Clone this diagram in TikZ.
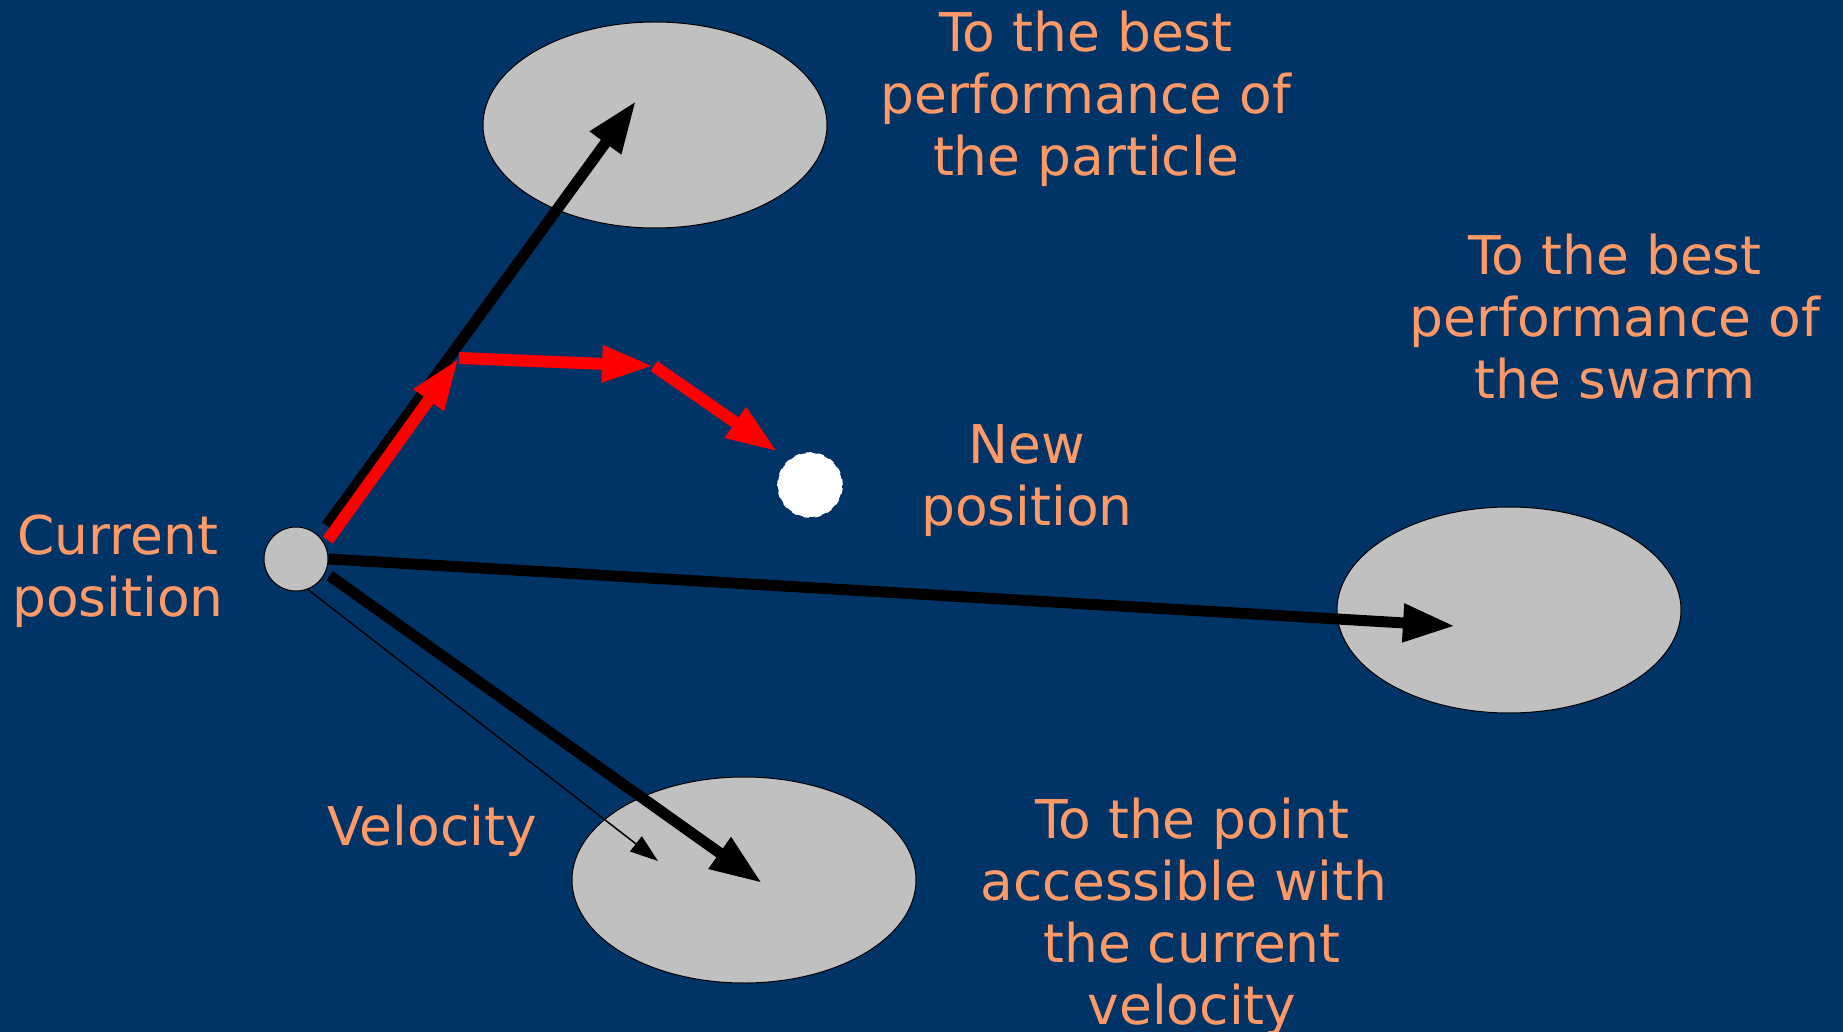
\documentclass[tikz,border=0pt]{standalone}
\usepackage{fontspec}
\setmainfont{DejaVu Sans}
\usepackage{tikz}
\usetikzlibrary{arrows.meta,shapes.geometric,backgrounds}
\definecolor{bgblue}{RGB}{0,51,102}
\definecolor{salmon}{RGB}{255,153,102}
\definecolor{targetgray}{RGB}{192,192,192}
\definecolor{pathred}{RGB}{255,0,0}

\begin{document}
\begin{tikzpicture}[
  x=0.5pt, y=-0.5pt,
  txt/.style     ={text=salmon, align=center, inner sep=0pt, font=\fontsize{26.7}{31}\selectfont},
  target/.style  ={ellipse, draw=black, line width=0.5pt, fill=targetgray, inner sep=0pt, minimum width=172pt, minimum height=103pt},
  particle/.style={circle, draw=black, line width=0.5pt, fill=targetgray, inner sep=0pt, minimum size=32pt},
  newdot/.style  ={circle, draw=white, dashed, line width=0.8pt, fill=white, inner sep=0pt, minimum size=32pt},
  bigarrow/.style={-{Triangle[length=26pt, width=18pt]}, draw=black, line width=5.5pt},
  redarrow/.style={-{Triangle[length=26pt, width=17pt]}, draw=pathred, line width=6pt},
  thinarrow/.style={-{Triangle[length=14pt, width=9.5pt]}, draw=black, line width=0.75pt},
]
\useasboundingbox (0,0) rectangle (1843,1032);
\clip (0,0) rectangle (1843,1032);
\fill[bgblue] (0,0) rectangle (1843,1032);
% targets
\node[target] (pbest) at (655,125) {};
\node[target] (gbest) at (1509,610) {};
\node[target] (inert) at (744,880) {};
% particle positions
\node[particle] (cur)    at (296,559) {};
\node[newdot]   (newpos) at (810,485) {};
% arrow ends
\coordinate (pbtip) at (636,101);
\coordinate (gbtip) at (1455,626);
\coordinate (intip) at (762,883);
\coordinate (vtip)  at (658,861);
\coordinate (r1) at (459,358);
\coordinate (r2) at (654,366);
\coordinate (r3) at (778,452);
% components
\draw[bigarrow, shorten <=6.5pt] (cur.45) -- (pbtip);
\draw[bigarrow] (cur.east) -- (gbtip);
\draw[bigarrow, shorten <=2.5pt] (cur.-25) -- (intip);
\draw[thinarrow] (cur.-69) -- (vtip);
% resulting move
\draw[redarrow, shorten <=2.5pt] (cur.27) -- (r1);
\draw[redarrow] (r1) -- (r2);
\draw[redarrow] (r2) -- (r3);
% texts
\node[txt] (lblpbest) at (1086,99)  {To the best\\performance of\\the particle};
\node[txt] (lblgbest) at (1615,317) {To the best\\performance of\\the swarm};
\node[txt] (lblnew)   at (1027,481) {New\\position};
\node[txt] (lblcur)   at (118,571)  {Current\\position};
\node[txt] (lblvel)   at (432,831)  {Velocity};
\node[txt] (lblinert) at (1192,917) {To the point\\accessible with\rule{8pt}{0pt}\\the current\\velocity};
\end{tikzpicture}
\end{document}
